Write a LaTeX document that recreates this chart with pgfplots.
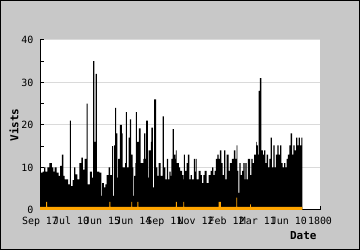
\documentclass[border=0pt]{standalone}
\usepackage{fontspec}
\setmainfont{DejaVu Sans Mono}
\usepackage{pgfplots}
\pgfplotsset{compat=1.18}
\definecolor{bg}{RGB}{200,200,200}
\definecolor{gridc}{RGB}{218,218,218}
\definecolor{org}{RGB}{255,165,0}
\pgfplotsset{layers/mylayers/.define layer set={axis background,axis grid,main,axis ticks,axis lines,axis tick labels,axis descriptions,axis foreground}{}}
\begin{document}
\begin{tikzpicture}
\fill[bg] (0,0) rectangle (360bp,250bp);
\begin{axis}[
  set layers=mylayers,
  at={(40bp,40bp)}, anchor=south west,
  scale only axis, width=280bp, height=170bp,
  xmin=0, xmax=1800, ymin=0, ymax=40,
  axis lines*=left,
  axis background/.style={fill=white},
  axis line style={black, line width=1bp},
  tick style={black, line width=1bp},
  tick align=inside,
  major tick length=4bp, minor tick length=4bp,
  xtick={0,200,...,1800},
  xticklabels={Sep 17,Jul 10,Jun 15,Jun 14,Sep 11,Nov 12,Feb 12,Mar 11,Jun 10,1800},
  ytick={0,10,20,30,40},
  minor ytick={5,15,25,35},
  ymajorgrids,
  grid style={gridc, line width=1bp},
  /pgf/number format/assume math mode=true,
  every tick label/.append style={font=\fontsize{10}{11}\selectfont},
  xticklabel style={anchor=base, yshift=-14bp, inner sep=0pt},
  yticklabel style={xshift=-3bp},
  ylabel={\bfseries Vists},
  ylabel style={at={(axis description cs:-0.093,0.5)}, anchor=center, font=\fontsize{11}{12}\selectfont},
  xlabel={\bfseries Date},
  xlabel style={at={(axis description cs:1,0)}, anchor=east, yshift=-26bp, font=\fontsize{11}{12}\selectfont},
  clip=true,
]
\addplot[const plot, fill=black, draw=none] coordinates {
(0,8.8) (17,9) (26,10) (34,9) (47,10) (60,11) (77,10) (86,9) (94,10) (107,8.8)
(120,8) (129,10.4) (141,13) (150,8) (159,7.2) (180,6) (192,21) (199,5.6) (210,7) (219,10)
(227,8.4) (240,7.2) (253,11) (266,12.3) (275,9.5) (287,12) (299,25) (306,6) (321,9) (334,7.6)
(342,35) (349,16) (357,32) (366,9) (381,8.8) (394,3.3) (400,6.3) (411,5.3) (420,6) (429,8.2)
(441,10) (450,8.2) (463,15) (470,3.3) (476,15.2) (483,24) (490,18) (497,7.6) (502,12) (514,20)
(527,18) (531,10) (548,11) (552,23) (558,10) (570,17) (578,21.3) (585,13) (596,10) (600,3.3)
(605,8) (613,11) (616,23) (622,16) (635,19.2) (647,11) (664,12) (669,18) (677,12) (682,21)
(694,7.6) (699,14) (712,16) (716,19.4) (725,5.3) (733,26) (746,10) (754,8) (763,11) (776,8)
(789,22) (797,10) (806,7.2) (815,12) (823,7.2) (831,9) (840,8) (845,12) (853,19) (860,13)
(870,12) (874,14) (879,11) (892,10) (900,9.2) (913,8.2) (921,7.2) (925,13) (932,9.2) (943,11)
(951,13) (960,7.2) (969,8.2) (977,7.2) (989,12) (996,9) (1001,12) (1007,7.2) (1020,9.2) (1033,8.2)
(1041,6.3) (1050,8.2) (1059,9.2) (1071,6.3) (1084,8.2) (1097,9.2) (1106,10) (1114,8.2) (1123,9.2) (1131,12)
(1140,13) (1149,12) (1157,14) (1166,11) (1174,8.2) (1183,14) (1191,7.2) (1200,13) (1213,9.2) (1221,11)
(1234,12) (1247,14) (1256,12) (1264,15.2) (1269,9.2) (1276,4) (1282,11) (1290,8.2) (1299,9.2) (1307,11)
(1316,7.2) (1320,11) (1329,7.2) (1337,12) (1350,8.2) (1359,12) (1367,11) (1376,13) (1389,16) (1393,15.2)
(1401,13) (1406,28) (1414,31) (1423,14) (1432,13) (1440,14) (1449,11) (1457,13) (1466,10) (1474,12)
(1483,17) (1491,10) (1500,15.2) (1509,10) (1517,13) (1526,15.2) (1534,13) (1543,15.2) (1551,11) (1560,10)
(1569,11) (1577,10) (1586,12) (1594,13) (1603,15.2) (1611,18) (1620,13) (1629,15.2) (1637,14) (1646,17)
(1654,15.2) (1663,17) (1671,15.2) (1680,17) (1686,17)
} \closedcycle;
\addplot[const plot, fill=org, draw=none] coordinates {
(0,0.75) (39,1.9) (45,0.75) (446,1.9) (452,0.75) (587,1.9) (593,0.75) (626,1.9) (632,0.75)
(874,1.9) (880,0.75) (921,1.9) (927,0.75) (1149,1.9) (1155,0.75) (1157,1.9) (1163,0.75)
(1262,2.9) (1268,0.75) (1350,1.3) (1356,0.75) (1686,0.75)
} \closedcycle;
\end{axis}
\draw[black, line width=1bp] (0.5bp,0.5bp) rectangle (359.5bp,249.5bp);
\pgfresetboundingbox
\useasboundingbox (0,0) rectangle (360bp,250bp);
\end{tikzpicture}
\end{document}
